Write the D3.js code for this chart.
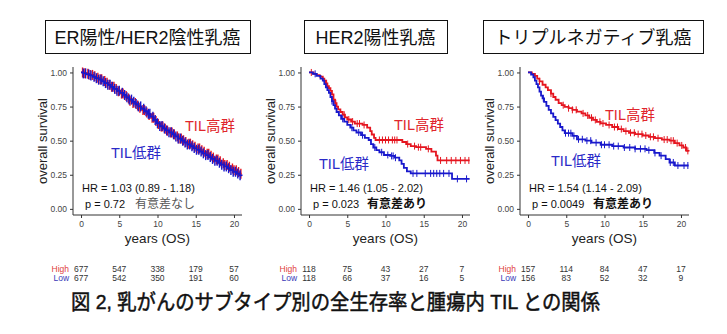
<!DOCTYPE html>
<html>
<head>
<meta charset="utf-8">
<script src="https://cdn.jsdelivr.net/npm/d3@7"></script>
<style>
  body { margin: 0; background: #fff; }
  text { font-family: "Liberation Sans", "Noto Sans CJK JP", sans-serif; }
</style>
</head>
<body>
<svg id="chart" width="727" height="334"></svg>
<script>

// ---- data ----
var titles = ["ER陽性/HER2陰性乳癌", "HER2陽性乳癌", "トリプルネガティブ乳癌"];
var xTicks = [0, 5, 10, 15, 20];
var yTicks = [0, 0.25, 0.5, 0.75, 1];

// ER+/HER2- : [years, survival] steps
var p1High = [[0,1],[0.4,0.995],[0.8,0.99],[1.2,0.982],[1.6,0.972],[2.0,0.962],[2.4,0.95],[2.8,0.937],[3.2,0.924],[3.6,0.91],[4.0,0.895],[4.4,0.878],[4.8,0.862],[5.2,0.845],[5.6,0.828],[6.0,0.81],[6.4,0.792],[6.8,0.776],[7.2,0.758],[7.6,0.742],[8.0,0.724],[8.4,0.706],[8.8,0.688],[9.2,0.668],[9.6,0.645],[10.0,0.622],[10.4,0.603],[10.8,0.588],[11.2,0.573],[11.6,0.56],[12.0,0.546],[12.4,0.531],[12.8,0.516],[13.2,0.503],[13.6,0.49],[14.0,0.478],[14.4,0.466],[14.8,0.455],[15.2,0.443],[15.6,0.43],[16.0,0.418],[16.4,0.404],[16.8,0.39],[17.2,0.376],[17.6,0.362],[18.0,0.349],[18.4,0.335],[18.8,0.322],[19.2,0.309],[19.6,0.296],[20.0,0.283],[20.4,0.27],[20.8,0.258],[21.0,0.258]];
var p1Low = [[0,1],[0.3,0.993],[0.7,0.986],[1.1,0.978],[1.5,0.968],[1.9,0.958],[2.3,0.947],[2.7,0.935],[3.1,0.922],[3.5,0.909],[3.9,0.895],[4.3,0.88],[4.7,0.866],[5.1,0.851],[5.5,0.835],[5.9,0.818],[6.3,0.801],[6.7,0.785],[7.1,0.768],[7.5,0.751],[7.9,0.734],[8.3,0.716],[8.7,0.697],[9.1,0.676],[9.5,0.652],[9.9,0.628],[10.3,0.607],[10.7,0.59],[11.1,0.575],[11.5,0.561],[11.9,0.547],[12.3,0.531],[12.7,0.515],[13.1,0.5],[13.5,0.486],[13.9,0.472],[14.3,0.459],[14.7,0.446],[15.1,0.433],[15.5,0.42],[15.9,0.407],[16.3,0.394],[16.7,0.38],[17.1,0.366],[17.5,0.352],[17.9,0.338],[18.3,0.324],[18.7,0.311],[19.1,0.298],[19.5,0.285],[19.9,0.272],[20.3,0.259],[20.7,0.246],[21.0,0.24]];
var p1HighCens = [0.2,0.5,0.9,1.2,1.5,1.8,2.2,2.5,2.7,3.1,3.4,3.7,4.0,4.3,4.6,4.9,5.3,5.5,5.9,6.2,6.4,6.8,7.1,7.4,7.7,8.1,8.3,8.6,8.9,9.3,9.5,9.8,10.1,10.5,10.7,11.0,11.3,11.7,11.9,12.2,12.6,12.8,13.1,13.4,13.7,14.1,14.3,14.6,14.9,15.3,15.5,15.8,16.1,16.5,16.7,17.0,17.3,17.7,17.9,18.2,18.6,18.8,19.1,19.4,19.8,20.0,20.3,20.6,20.9];
var p1LowCens = [0.3,0.6,1.0,1.3,1.7,2.0,2.3,2.6,2.9,3.2,3.5,3.8,4.1,4.4,4.7,5.0,5.4,5.7,6.0,6.3,6.6,6.9,7.2,7.5,7.8,8.2,8.5,8.8,9.0,9.4,9.7,10.0,10.3,10.6,10.9,11.2,11.5,11.8,12.1,12.4,12.7,13.0,13.3,13.6,13.9,14.2,14.5,14.8,15.1,15.4,15.7,16.0,16.3,16.6,16.9,17.2,17.5,17.8,18.1,18.4,18.7,19.0,19.3,19.6,19.9,20.2,20.5,20.8];

// HER2+
var p2High = [[0,1],[0.6,0.99],[1.0,0.98],[1.4,0.97],[1.8,0.955],[2.0,0.94],[2.2,0.92],[2.4,0.9],[2.6,0.885],[2.8,0.865],[3.0,0.84],[3.2,0.8],[3.4,0.775],[3.6,0.75],[3.8,0.73],[4.1,0.71],[4.4,0.69],[4.7,0.67],[5.0,0.655],[5.5,0.64],[6.0,0.625],[7.0,0.615],[7.6,0.595],[8.0,0.57],[8.2,0.545],[8.5,0.52],[8.7,0.505],[12.2,0.49],[12.7,0.475],[13.3,0.46],[14.0,0.452],[15.3,0.44],[16.0,0.42],[16.6,0.39],[16.8,0.355],[21.0,0.355]];
var p2Low = [[0,1],[0.5,0.99],[1.0,0.975],[1.5,0.955],[1.8,0.94],[2.0,0.915],[2.2,0.89],[2.4,0.87],[2.6,0.85],[2.8,0.82],[3.0,0.79],[3.2,0.76],[3.4,0.735],[3.6,0.71],[3.9,0.685],[4.2,0.66],[4.6,0.64],[5.0,0.615],[5.4,0.595],[5.8,0.575],[6.2,0.56],[6.8,0.54],[7.3,0.52],[7.8,0.505],[8.1,0.475],[8.4,0.45],[8.8,0.43],[9.2,0.415],[9.8,0.395],[10.6,0.388],[11.2,0.375],[11.8,0.355],[12.1,0.33],[12.4,0.3],[12.8,0.275],[13.3,0.26],[18.7,0.22],[21.0,0.22]];
var p2HighCens = [0.3,2.3,3.5,4.6,5.2,5.7,6.3,6.6,7.2,9.2,9.6,10.0,10.4,10.9,11.2,11.5,12.9,13.8,14.3,14.6,15.6,17.2,18.0,18.6,19.2,19.8,20.4,20.9];
var p2LowCens = [0.8,3.0,4.4,5.6,6.5,7.0,8.6,9.5,10.3,10.8,11.0,11.3,13.6,14.1,15.2,15.9,16.3,16.7,17.1,17.6,18.3,19.4,20.6];

// triple negative
var p3High = [[0,1],[0.5,0.99],[0.9,0.975],[1.2,0.955],[1.5,0.935],[1.9,0.91],[2.3,0.89],[2.6,0.87],[3.0,0.845],[3.3,0.82],[3.6,0.8],[4.0,0.775],[4.4,0.76],[4.8,0.748],[5.3,0.738],[5.8,0.726],[6.4,0.713],[7.0,0.7],[7.5,0.685],[8.0,0.668],[8.5,0.652],[9.0,0.638],[9.5,0.626],[10.2,0.615],[11.0,0.6],[11.8,0.585],[12.5,0.57],[13.2,0.558],[14.0,0.548],[15.0,0.538],[15.8,0.528],[16.6,0.518],[17.5,0.508],[18.5,0.5],[19.2,0.482],[19.8,0.465],[20.3,0.45],[20.7,0.425],[21.0,0.42]];
var p3Low = [[0,1],[0.4,0.985],[0.7,0.965],[0.9,0.94],[1.1,0.915],[1.3,0.89],[1.5,0.86],[1.7,0.83],[1.9,0.81],[2.1,0.785],[2.4,0.755],[2.7,0.725],[3.0,0.7],[3.3,0.675],[3.6,0.65],[3.9,0.625],[4.2,0.6],[4.5,0.575],[4.8,0.555],[5.8,0.535],[6.4,0.51],[7.5,0.5],[8.3,0.485],[9.5,0.47],[11.0,0.46],[12.5,0.45],[14.0,0.44],[15.5,0.43],[16.5,0.41],[17.2,0.39],[18.0,0.365],[18.5,0.34],[19.2,0.318],[21.0,0.318]];
var p3HighCens = [1.5,3.0,4.6,5.3,5.8,6.3,7.2,7.8,8.3,8.8,9.4,9.8,10.6,11.3,11.7,12.2,12.8,13.4,13.9,14.4,14.9,15.4,16.0,16.4,17.0,17.8,18.2,18.7,19.0,19.5,20.1,20.6,20.9];
var p3LowCens = [2.0,4.9,5.3,5.6,6.0,6.6,7.1,7.7,8.2,8.9,9.6,10.0,10.6,11.2,11.8,12.6,13.3,14.0,14.7,15.3,15.8,16.6,17.4,18.6,19.0,19.6,20.4,20.9];

var hrText = ["HR = 1.03 (0.89 - 1.18)", "HR = 1.46 (1.05 - 2.02)", "HR = 1.54 (1.14 - 2.09)"];
var pText = ["p = 0.72", "p = 0.023", "p = 0.0049"];
var sigText = ["有意差なし", "有意差あり", "有意差あり"];

var riskHigh = [[677,547,338,179,57],[118,75,43,27,7],[157,114,84,47,17]];
var riskLow = [[677,542,350,191,60],[118,66,37,16,5],[156,83,52,32,9]];
var caption = "図 2, 乳がんのサブタイプ別の全生存率と腫瘍内 TIL との関係";

// ---- layout ----
var red = "#e5151f", blue = "#1818cc";
var panels = [
    {left: 73,  box: [45, 250],  high: p1High, low: p1Low, hc: p1HighCens, lc: p1LowCens,
     hiLab: [185, 131], loLab: [111, 158], sigX: 135, sigBold: false, tick: 5, tickW: 1.4},
    {left: 301, box: [304, 447], high: p2High, low: p2Low, hc: p2HighCens, lc: p2LowCens,
     hiLab: [394, 130], loLab: [319, 169], sigX: 367, sigBold: true, tick: 3.5, tickW: 1},
    {left: 520, box: [483, 703], high: p3High, low: p3Low, hc: p3HighCens, lc: p3LowCens,
     hiLab: [605, 120], loLab: [551, 166], sigX: 593, sigBold: true, tick: 3.5, tickW: 1}
];
var plotW = 169, plotTop = 67, plotBottom = 215;

var svg = d3.select("#chart");
svg.append("rect").attr("width", 727).attr("height", 334).attr("fill", "#fff");

var y = d3.scaleLinear().domain([-0.045, 1.04]).range([plotBottom, plotTop]);

function survAt(steps, t){
    var s = steps[0][1];
    for(var i = 0 ; i != steps.length ; i++){
        if(steps[i][0] <= t) s = steps[i][1];
    }
    return s;
}

panels.forEach(function(p, i){
    var x = d3.scaleLinear().domain([-1.05, 21.05]).range([p.left, p.left + plotW]);
    var g = svg.append("g");

    // title box
    g.append("rect")
        .attr("x", p.box[0] + 0.5).attr("y", 20.5)
        .attr("width", p.box[1] - p.box[0]).attr("height", 33)
        .attr("fill", "none").attr("stroke", "#111").attr("stroke-width", 1);
    g.append("text")
        .attr("x", (p.box[0] + p.box[1]) / 2).attr("y", 43.5)
        .attr("text-anchor", "middle")
        .attr("font-size", 18).attr("fill", "#111")
        .text(titles[i]);

    // axes
    var yAxis = d3.axisLeft(y).tickValues(yTicks).tickSize(3).tickPadding(3)
        .tickFormat(d3.format(".2f"));
    var ya = g.append("g").attr("transform", "translate(" + p.left + ",0)").call(yAxis);
    ya.select(".domain").attr("d", "M0," + plotTop + "V" + plotBottom);

    var xAxis = d3.axisBottom(x).tickValues(xTicks).tickSize(3).tickPadding(3);
    var xa = g.append("g").attr("transform", "translate(0," + plotBottom + ")").call(xAxis);
    xa.select(".domain").attr("d", "M" + p.left + ",0H" + (p.left + plotW));

    [ya, xa].forEach(function(a){
        a.selectAll(".domain").attr("stroke", "#333").attr("stroke-width", 1);
        a.selectAll(".tick line").attr("stroke", "#333");
        a.selectAll(".tick text").attr("font-size", 8.5).attr("fill", "#444")
            .attr("font-family", "Liberation Sans, sans-serif");
    });

    g.append("text")
        .attr("transform", "translate(" + (p.left - 26) + "," + 141 + ") rotate(-90)")
        .attr("text-anchor", "middle").attr("font-size", 13).attr("fill", "#222")
        .text("overall survival");
    g.append("text")
        .attr("x", x(10)).attr("y", 243)
        .attr("text-anchor", "middle").attr("font-size", 13.5).attr("fill", "#222")
        .text("years (OS)");

    // curves
    var line = d3.line()
        .x(function(d){ return x(d[0]); })
        .y(function(d){ return y(d[1]); })
        .curve(d3.curveStepAfter);

    [[p.high, p.hc, red], [p.low, p.lc, blue]].forEach(function(s){
        g.append("path").datum(s[0])
            .attr("d", line).attr("fill", "none")
            .attr("stroke", s[2]).attr("stroke-width", 1.8);
        g.selectAll(null).data(s[1]).enter().append("line")
            .attr("x1", function(d){ return x(d); })
            .attr("x2", function(d){ return x(d); })
            .attr("y1", function(d){ return y(survAt(s[0], d)) - p.tick; })
            .attr("y2", function(d){ return y(survAt(s[0], d)) + p.tick; })
            .attr("stroke", s[2]).attr("stroke-width", p.tickW);
    });

    // group labels
    g.append("text").attr("x", p.hiLab[0]).attr("y", p.hiLab[1])
        .attr("font-size", 14.5).attr("fill", "#e0262c").text("TIL高群");
    g.append("text").attr("x", p.loLab[0]).attr("y", p.loLab[1])
        .attr("font-size", 14.5).attr("fill", "#2a2ac8").text("TIL低群");

    // stats
    g.append("text").attr("x", p.left + 9).attr("y", 192)
        .attr("font-size", 11).attr("fill", "#111").text(hrText[i]);
    g.append("text").attr("x", p.left + 12).attr("y", 207.5)
        .attr("font-size", 11).attr("fill", "#111").text(pText[i]);
    g.append("text").attr("x", p.sigX).attr("y", 208)
        .attr("font-size", 12)
        .attr("font-weight", p.sigBold ? "bold" : "normal")
        .attr("fill", p.sigBold ? "#111" : "#555")
        .text(sigText[i]);

    // numbers at risk
    var rows = [["High", riskHigh[i], "#e04040", 272], ["Low", riskLow[i], "#3a3ab8", 281]];
    rows.forEach(function(r){
        g.append("text").attr("x", x(0) - 12).attr("y", r[3])
            .attr("text-anchor", "end").attr("font-size", 8.5).attr("fill", r[2])
            .text(r[0]);
        g.selectAll(null).data(r[1]).enter().append("text")
            .attr("x", function(d, k){ return x(xTicks[k]); })
            .attr("y", r[3])
            .attr("text-anchor", "middle").attr("font-size", 8.5).attr("fill", "#333")
            .text(function(d){ return d; });
    });
});

svg.append("text")
    .attr("x", 71).attr("y", 309)
    .attr("font-size", 21).attr("fill", "#111")
    .attr("stroke", "#111").attr("stroke-width", 0.5)
    .attr("font-family", "Noto Sans CJK JP, sans-serif")
    .attr("textLength", 529).attr("lengthAdjust", "spacingAndGlyphs")
    .text(caption);

</script>
</body>
</html>
